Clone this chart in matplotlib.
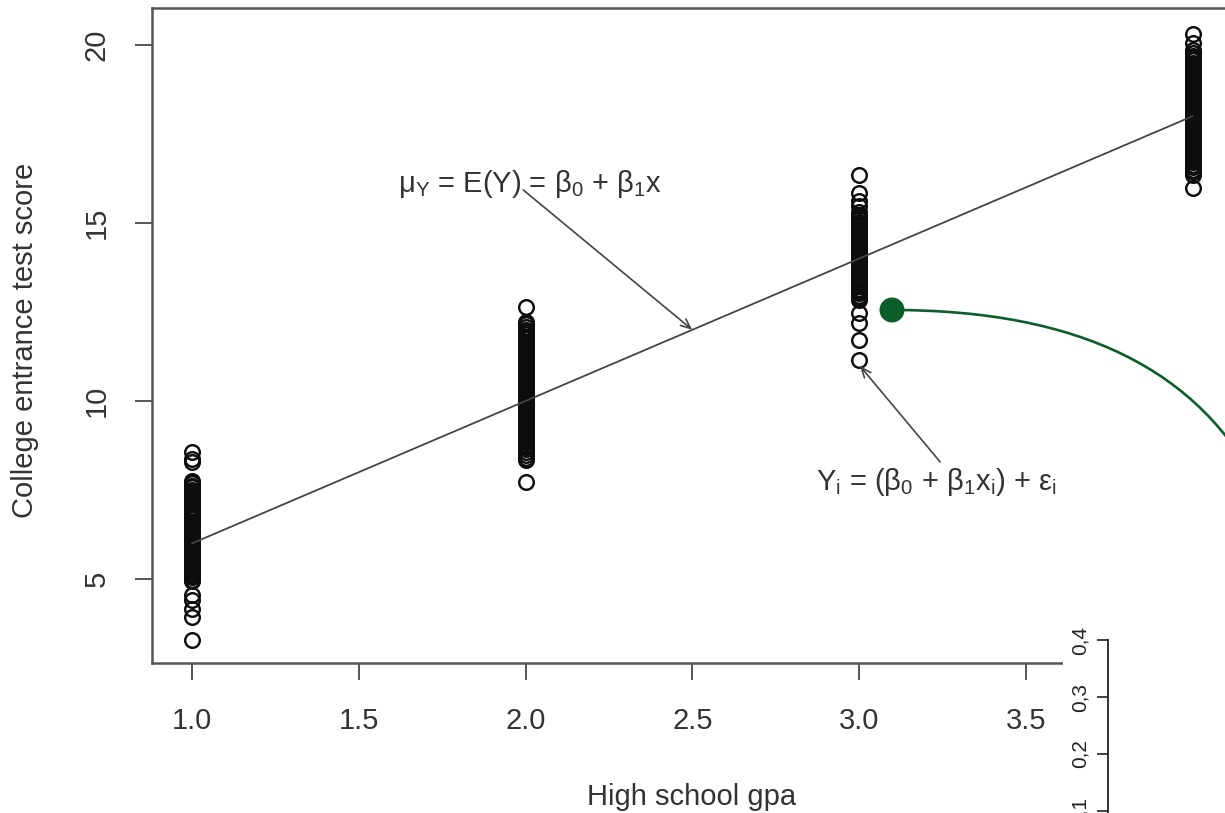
import matplotlib
matplotlib.use("Agg")
import matplotlib.pyplot as plt
from matplotlib.path import Path
from matplotlib.patches import PathPatch, Rectangle, Ellipse

plt.rcParams['font.family'] = ['Liberation Sans', 'DejaVu Sans']
plt.rcParams['mathtext.fontset'] = 'custom'
plt.rcParams['mathtext.rm'] = 'Liberation Sans'
plt.rcParams['mathtext.it'] = 'Liberation Sans'
plt.rcParams['mathtext.default'] = 'regular'

# ---------------- data ----------------
gpa_levels = [1.0, 2.0, 3.0, 4.0]

scores_gpa1 = [8.57, 8.38, 8.30,
               7.75, 7.70, 7.62, 7.58, 7.51, 7.44, 7.40, 7.33, 7.27, 7.21, 7.15, 7.10,
               7.03, 6.98, 6.91, 6.85, 6.80, 6.74, 6.68, 6.61, 6.57, 6.50, 6.45, 6.39,
               6.33, 6.27, 6.22, 6.15, 6.10, 6.04, 5.98, 5.92, 5.87, 5.81, 5.75, 5.70,
               5.63, 5.58, 5.52, 5.46, 5.40, 5.35, 5.28, 5.22, 5.17, 5.11, 5.05, 4.98,
               4.93, 4.55, 4.40, 4.15, 3.92, 3.29]
scores_gpa2 = [12.64, 12.22, 12.15, 12.08, 12.00, 11.93, 11.87, 11.80, 11.74, 11.66,
               11.61, 11.54, 11.47, 11.41, 11.34, 11.28, 11.21, 11.15, 11.08, 11.02,
               10.95, 10.89, 10.82, 10.76, 10.70, 10.63, 10.57, 10.50, 10.44, 10.37,
               10.31, 10.25, 10.18, 10.12, 10.05, 9.99, 9.92, 9.86, 9.80, 9.73, 9.67,
               9.60, 9.54, 9.48, 9.41, 9.35, 9.28, 9.22, 9.16, 9.09, 9.03, 8.96, 8.90,
               8.84, 8.77, 8.71, 8.64, 8.56, 8.48, 8.40, 8.34, 7.72]
scores_gpa3 = [16.35, 15.84, 15.62, 15.48, 15.30, 15.23, 15.17, 15.10, 15.04, 14.97,
               14.91, 14.84, 14.78, 14.71, 14.65, 14.58, 14.52, 14.45, 14.39, 14.32,
               14.26, 14.19, 14.13, 14.06, 14.00, 13.93, 13.87, 13.80, 13.74, 13.67,
               13.61, 13.54, 13.48, 13.41, 13.35, 13.28, 13.22, 13.15, 13.09, 13.02,
               12.96, 12.90, 12.84, 12.47, 12.19, 11.71, 11.15]
scores_gpa4 = [20.30, 20.05, 19.85, 19.78, 19.70, 19.63, 19.57, 19.50, 19.44, 19.37,
               19.31, 19.24, 19.18, 19.11, 19.05, 18.98, 18.92, 18.85, 18.79, 18.72,
               18.66, 18.59, 18.53, 18.46, 18.40, 18.33, 18.27, 18.20, 18.14, 18.07,
               18.01, 17.94, 17.88, 17.81, 17.75, 17.68, 17.62, 17.55, 17.49, 17.42,
               17.36, 17.29, 17.23, 17.16, 17.10, 17.03, 16.97, 16.90, 16.84, 16.77,
               16.71, 16.64, 16.58, 16.50, 16.42, 16.35, 15.98]

beta0 = 2.0
beta1 = 4.0
line_x = [1.0, 4.0]

x_ticks = [1.0, 1.5, 2.0, 2.5, 3.0, 3.5]
x_tick_labels = ["1.0", "1.5", "2.0", "2.5", "3.0", "3.5"]
y_ticks = [5, 10, 15, 20]
y_tick_labels = ["5", "10", "15", "20"]

side_ticks = [0.1, 0.2, 0.3, 0.4]
side_tick_labels = ["0,1", "0,2", "0,3", "0,4"]

mean_label = r'μ$_{Y}$ = E(Y) = β$_{0}$ + β$_{1}$x'
obs_label = r'Y$_{i}$ = (β$_{0}$ + β$_{1}$x$_{i}$) + ε$_{i}$'
mean_text_xy = (2.013, 16.1)
mean_arrow_from = (1.993, 15.93)
mean_arrow_to = (2.5, 12.0)
obs_text_xy = (3.231, 7.72)
obs_arrow_from = (3.243, 8.29)
obs_arrow_to = (3.003, 10.98)

# ---------------- figure ----------------
W, H = 1225, 813
fig = plt.figure(figsize=(W / 100, H / 100), dpi=100)
fig.patch.set_facecolor('white')

def fx(px):
    return px / W

def fy(py):
    return 1 - py / H

TXT = '#333333'
AX = '#555555'

ax = fig.add_axes([fx(152), fy(663), fx(1232.6) - fx(152), fy(8) - fy(663)])
ax.set_xlim(0.88, 4.12)
ax.set_ylim(2.64, 21.04)

groups = [scores_gpa1, scores_gpa2, scores_gpa3, scores_gpa4]
for gx, vals in zip(gpa_levels, groups):
    ax.plot([gx] * len(vals), vals, linestyle='none', marker='o', markersize=10.5,
            markerfacecolor='none', markeredgecolor='#0d0d0d', markeredgewidth=1.75)

ly = [beta0 + beta1 * v for v in line_x]
ax.plot(line_x, ly, color='#444444', lw=1.3)

ax.text(*mean_text_xy, mean_label, ha='center', va='center', fontsize=21, color=TXT)
ax.annotate('', xy=mean_arrow_to, xytext=mean_arrow_from,
            arrowprops=dict(arrowstyle='->,head_length=0.7,head_width=0.3',
                            color='#444444', lw=1.2, shrinkA=0, shrinkB=0))
ax.text(*obs_text_xy, obs_label, ha='center', va='center', fontsize=21, color=TXT)
ax.annotate('', xy=obs_arrow_to, xytext=obs_arrow_from,
            arrowprops=dict(arrowstyle='->,head_length=0.7,head_width=0.3',
                            color='#444444', lw=1.2, shrinkA=0, shrinkB=0))

ax.set_xticks(x_ticks)
ax.set_xticklabels(x_tick_labels)
ax.set_yticks(y_ticks)
ax.set_yticklabels(y_tick_labels, rotation=90, va='center')
ax.tick_params(axis='both', direction='out', length=12, width=1.4, color=AX,
               labelsize=21, labelcolor=TXT)
ax.tick_params(axis='x', pad=20)
ax.tick_params(axis='y', pad=18)
for s in ax.spines.values():
    s.set_color(AX)
    s.set_linewidth(1.8)

fig.text(fx(692), fy(797), 'High school gpa', ha='center', va='center',
         fontsize=21, color=TXT)
fig.text(fx(25), fy(340), 'College entrance test score', ha='center', va='center',
         rotation=90, fontsize=21, color=TXT)

# white overlay at bottom-right
fig.patches.append(Rectangle((fx(1063), 0), 1 - fx(1063), fy(625), transform=fig.transFigure,
                             facecolor='white', edgecolor='none', zorder=5))

# side axis
ax2 = fig.add_axes([fx(1108), 0, 0.001, fy(640)])
ax2.set_zorder(6)
ax2.patch.set_alpha(0)
ax2.set_ylim(0.4 - (H - 640) / 57.0 * 0.1, 0.4)
ax2.set_xticks([])
ax2.set_yticks(side_ticks)
ax2.set_yticklabels(side_tick_labels, rotation=90, va='center')
ax2.tick_params(axis='y', direction='out', length=8, width=1.2, color='#222222',
                labelsize=15, labelcolor='#222222', pad=5)
for k in ['top', 'right', 'bottom']:
    ax2.spines[k].set_visible(False)
ax2.spines['left'].set_color('#222222')
ax2.spines['left'].set_linewidth(1.3)

# green connector
GREEN = '#0b5e2a'
verts = [(fx(892), fy(310)), (fx(1080), fy(310)), (fx(1200), fy(370)), (fx(1260), fy(490))]
codes = [Path.MOVETO, Path.CURVE4, Path.CURVE4, Path.CURVE4]
fig.patches.append(PathPatch(Path(verts, codes), transform=fig.transFigure,
                             facecolor='none', edgecolor=GREEN, lw=1.9, zorder=7))
fig.patches.append(Ellipse((fx(892), fy(310)), 25 / W, 25 / H,
                           transform=fig.transFigure,
                           facecolor=GREEN, edgecolor='none', zorder=8))

fig.savefig('out.png', dpi=100)
